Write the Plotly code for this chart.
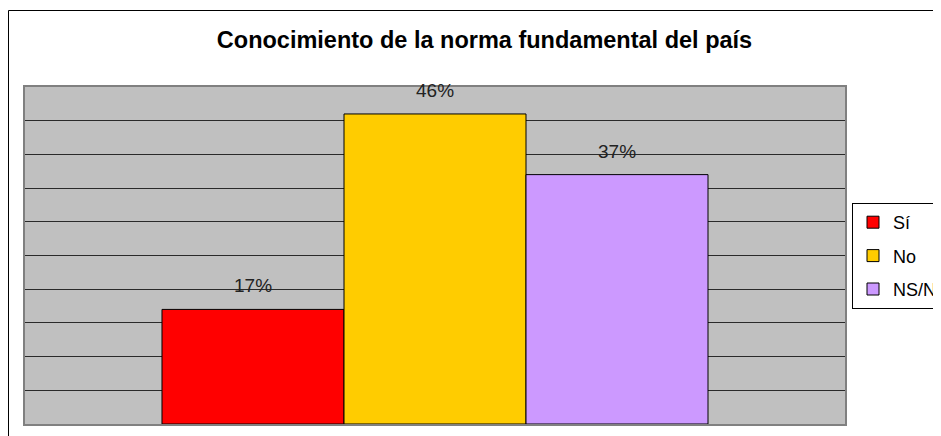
import plotly.graph_objects as go

# ---- data ----
categories = ["Sí", "No", "NS/NC"]
values = [0.17, 0.46, 0.37]
labels = ["17%", "46%", "37%"]
colors = ["#FF0000", "#FFCC00", "#CC99FF"]
title_text = "Conocimiento de la norma fundamental del país"

# page has an 8px body margin; work in page pixels and convert
OFF = 8
PAGE_W, PAGE_H = 941, 436
W, H = PAGE_W - OFF, PAGE_H - OFF
plot_left, plot_right, plot_top, plot_bottom = 25, 845, 87, 424  # page px
L = plot_left - OFF
R = W - (plot_right - OFF)
T = plot_top - OFF
B = H - (plot_bottom - OFF)
pw, ph = W - L - R, H - T - B


def px2x(p):
    return (p - OFF - L) / pw


def px2y(p):
    return (H - B - (p - OFF)) / ph


fig = go.Figure()
for i, (c, v, col) in enumerate(zip(categories, values, colors)):
    fig.add_trace(go.Bar(
        x=[i], y=[v], name=c, width=1,
        marker=dict(color=col, line=dict(color="black", width=1)),
        legendgroup=c, hoverinfo="skip",
    ))
    fig.add_annotation(x=i, y=v, text=labels[i], showarrow=False,
                       yanchor="bottom", yshift=11,
                       font=dict(family="Liberation Sans, Arial", size=19, color="#222"))

fig.add_shape(type="rect", xref="paper", yref="paper",
              x0=px2x(8.5), x1=px2x(PAGE_W + 20), y0=px2y(PAGE_H + 20), y1=px2y(10.5),
              line=dict(color="black", width=1), layer="below")

fig.update_layout(
    width=W, height=H,
    margin=dict(l=L, r=R, t=T, b=B, autoexpand=False),
    paper_bgcolor="white", plot_bgcolor="#C0C0C0",
    title=dict(text=title_text, x=(484.5 - OFF) / W, xanchor="center", xref="container",
               y=1 - (40 - OFF) / H, yanchor="middle", yref="container",
               font=dict(family="Liberation Sans, Arial", size=23.5, color="black", weight="bold")),
    barmode="overlay",
    showlegend=True,
    legend=dict(x=px2x(852), xanchor="left", y=px2y(256), yanchor="middle",
                bordercolor="black", borderwidth=1, bgcolor="white",
                font=dict(family="Liberation Sans, Arial", size=18, color="black"),
                traceorder="grouped", tracegroupgap=7, itemwidth=30),
    xaxis=dict(range=[-1.2527, 3.2527], showticklabels=False, showgrid=False,
               zeroline=False, ticks="", showline=True, mirror=True,
               linecolor="#808080", linewidth=1.5, fixedrange=True),
    yaxis=dict(range=[0, 0.5], dtick=0.05, tick0=0, showticklabels=False,
               showgrid=True, gridcolor="#2a2a2a", gridwidth=1, zeroline=False,
               ticks="", showline=True, mirror=True,
               linecolor="#808080", linewidth=1.5, fixedrange=True),
)

fig.write_html("out.html")
